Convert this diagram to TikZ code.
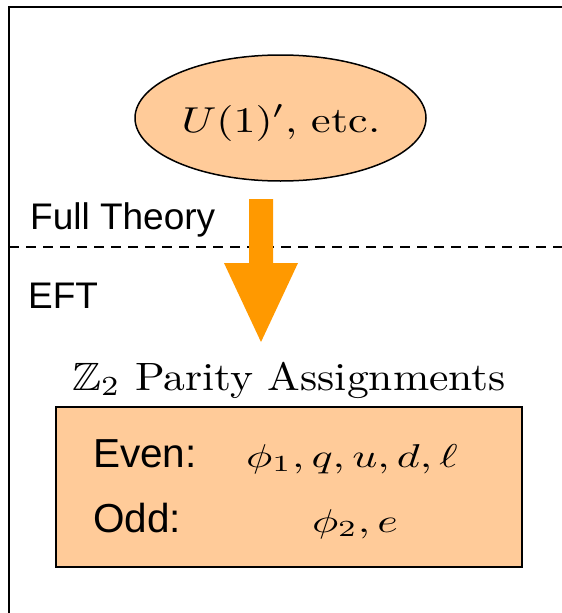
\documentclass[tikz,border=0pt]{standalone}
\usepackage{fontspec}
\usepackage{amssymb}
\usetikzlibrary{shapes.geometric}
\newfontfamily\arial{Liberation Sans}
\definecolor{peach}{HTML}{FFCB99}
\definecolor{arroworange}{HTML}{FF9900}
\begin{document}
\begin{tikzpicture}[x=1pt,y=-1pt,
  sanslabel/.style={font=\arial\fontsize{37}{42}\selectfont, inner sep=0},
  boxlabel/.style={font=\arial\fontsize{40.5}{46}\selectfont, inner sep=0},
  mathlabel/.style={inner sep=0, font=\fontsize{10}{12}\selectfont},
  peachfill/.style={fill=peach, draw=black}]
\useasboundingbox (0,0) rectangle (562,613);
% frame
\draw[line width=2pt] (562,7) -- (9,7) -- (9,613);
% divider
\draw[line width=2pt, dash pattern=on 10pt off 7pt] (9,247) -- (562,247);
% ellipse
\node[ellipse, peachfill, line width=1.5pt, minimum width=291, minimum height=126, inner sep=0] (src) at (280.5,118) {};
\node[mathlabel, anchor=base] (srctext) at (281,132) {\scalebox{4.4}[3.6]{$U(1)'$, etc.}};
% labels
\node[sanslabel, anchor=base west] (full) at (30,229) {Full Theory};
\node[sanslabel, anchor=base west] (eft) at (28,308) {EFT};
% arrow
\fill[arroworange] (249,199) -- (273,199) -- (273,263) -- (298,263) -- (261,342) -- (224,263) -- (249,263) -- cycle;
% title
\node[mathlabel, anchor=base] (title) at (289,390) {\scalebox{4.36}[3.95]{$\mathbb{Z}_2$ Parity Assignments}};
% box
\node[peachfill, line width=2.5pt, minimum width=466, minimum height=160, inner sep=0] (box) at (289,487) {};
\node[boxlabel, anchor=base west] (even) at (93,467) {Even:};
\node[mathlabel, anchor=base] (evenm) at (352,467) {\scalebox{4.4}[3.3]{$\phi_1, q, u, d, \ell$}};
\node[boxlabel, anchor=base west] (odd) at (93,532) {Odd:};
\node[mathlabel, anchor=base] (oddm) at (355,532) {\scalebox{4.4}[3.3]{$\phi_2, e$}};
\end{tikzpicture}
\end{document}
